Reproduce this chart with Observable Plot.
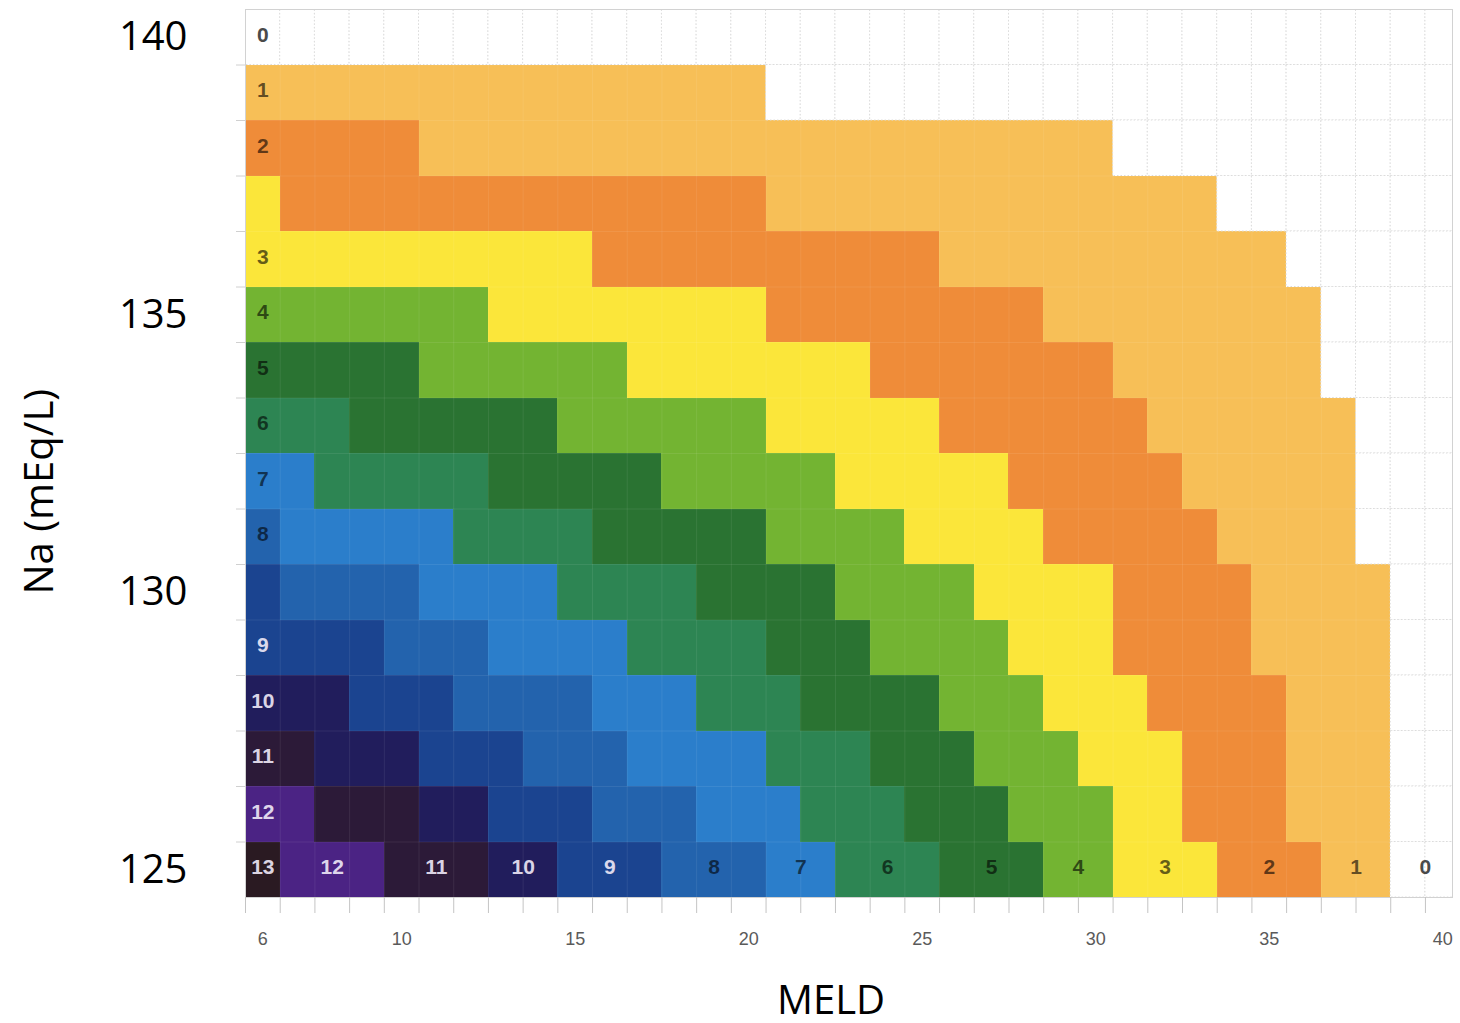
<!DOCTYPE html>
<html>
<head>
<meta charset="utf-8">
<script src="https://cdn.jsdelivr.net/npm/d3@7"></script>
<script src="https://cdn.jsdelivr.net/npm/@observablehq/plot@0.6"></script>
<style>
  html, body { margin: 0; padding: 0; background: #ffffff; }
  #chart { width: 1460px; height: 1023px; }
</style>
</head>
<body>
<div id="chart"></div>
<script>
// ---- Data ----
const meld = [6,7,8,9,10,11,12,13,14,15,16,17,18,19,20,21,22,23,24,25,26,27,28,29,30,31,32,33,34,35,36,37,38,39,40];
const na = [140,139,138,137,136,135,134,133,132,131,130,129,128,127,126,125];

// increase in score per cell, one array per Na row (MELD 6 .. 40)
const row140 = [0,0,0,0,0,0,0,0,0,0,0,0,0,0,0,0,0,0,0,0,0,0,0,0,0,0,0,0,0,0,0,0,0,0,0];
const row139 = [1,1,1,1,1,1,1,1,1,1,1,1,1,1,1,0,0,0,0,0,0,0,0,0,0,0,0,0,0,0,0,0,0,0,0];
const row138 = [2,2,2,2,2,1,1,1,1,1,1,1,1,1,1,1,1,1,1,1,1,1,1,1,1,0,0,0,0,0,0,0,0,0,0];
const row137 = [3,2,2,2,2,2,2,2,2,2,2,2,2,2,2,1,1,1,1,1,1,1,1,1,1,1,1,1,0,0,0,0,0,0,0];
const row136 = [3,3,3,3,3,3,3,3,3,3,2,2,2,2,2,2,2,2,2,2,1,1,1,1,1,1,1,1,1,1,0,0,0,0,0];
const row135 = [4,4,4,4,4,4,4,3,3,3,3,3,3,3,3,2,2,2,2,2,2,2,2,1,1,1,1,1,1,1,1,0,0,0,0];
const row134 = [5,5,5,5,5,4,4,4,4,4,4,3,3,3,3,3,3,3,2,2,2,2,2,2,2,1,1,1,1,1,1,0,0,0,0];
const row133 = [6,6,6,5,5,5,5,5,5,4,4,4,4,4,4,3,3,3,3,3,2,2,2,2,2,2,1,1,1,1,1,1,0,0,0];
const row132 = [7,7,6,6,6,6,6,5,5,5,5,5,4,4,4,4,4,3,3,3,3,3,2,2,2,2,2,1,1,1,1,1,0,0,0];
const row131 = [8,7,7,7,7,7,6,6,6,6,5,5,5,5,5,4,4,4,4,3,3,3,3,2,2,2,2,2,1,1,1,1,0,0,0];
const row130 = [9,8,8,8,8,7,7,7,7,6,6,6,6,5,5,5,5,4,4,4,4,3,3,3,3,2,2,2,2,1,1,1,1,0,0];
const row129 = [9,9,9,9,8,8,8,7,7,7,7,6,6,6,6,5,5,5,4,4,4,4,3,3,3,2,2,2,2,1,1,1,1,0,0];
const row128 = [10,10,10,9,9,9,8,8,8,8,7,7,7,6,6,6,5,5,5,5,4,4,4,3,3,3,2,2,2,2,1,1,1,0,0];
const row127 = [11,11,10,10,10,9,9,9,8,8,8,7,7,7,7,6,6,6,5,5,5,4,4,4,3,3,3,2,2,2,1,1,1,0,0];
const row126 = [12,12,11,11,11,10,10,9,9,9,8,8,8,7,7,7,6,6,6,5,5,5,4,4,4,3,3,2,2,2,1,1,1,0,0];
const row125 = [13,12,12,12,11,11,11,10,10,9,9,9,8,8,8,7,7,6,6,6,5,5,5,4,4,3,3,3,2,2,2,1,1,0,0];

// rows whose first cell carries a printed number
const labelRows = [140,139,138,136,135,134,133,132,131,129,128,127,126,125];
// x-axis tick labels
const xTicks = [6,10,15,20,25,30,35,40];
// y-axis tick labels
const yTicks = [125,130,135,140];

// ---- Styles ----
const palette = ["#ffffff","#f7bf57","#ef8c39","#fbe63a","#73b432","#2a7332","#2d8553",
                 "#2b7ecb","#2363ad","#1b4490","#211d5c","#2c1a38","#4b2384","#2a1a22"];

// ---- Build table ----
const rows = [row140,row139,row138,row137,row136,row135,row134,row133,row132,row131,row130,row129,row128,row127,row126,row125];
const cells = [];
rows.forEach((vals, i) => vals.forEach((v, j) => cells.push({na: na[i], meld: meld[j], v})));

// labels: first column for selected rows
const labels = [];
labelRows.forEach(n => {
  const vals = rows[na.indexOf(n)];
  labels.push({meld: meld[0], na: n, v: vals[0]});
});
// labels along the bottom row: one per run of equal values (after the first cell)
{
  const n = na[na.length - 1];
  const vals = rows[na.length - 1];
  const groups = d3.groups(meld.map((m, j) => ({m, v: vals[j]})).slice(1), d => d.v);
  for (const [v, arr] of groups) labels.push({meld: d3.mean(arr, d => d.m), na: n, v});
}

const labelFill = v => v >= 9 ? "rgba(238,232,246,0.92)" : v === 0 ? "#4a4a4a" : "rgba(0,0,0,0.6)";

const xBounds = meld.map(m => m - 0.5);
const yBounds = na.map(n => n - 0.5);

const chart = Plot.plot({
  width: 1460,
  height: 1023,
  marginLeft: 245,
  marginRight: 8,
  marginTop: 9,
  marginBottom: 126,
  x: {domain: [5.5, 40.28], axis: null},
  y: {domain: [124.5, 140.5], axis: null},
  color: {type: "identity"},
  style: {background: "white", fontFamily: "'Liberation Sans', Arial, sans-serif", overflow: "visible"},
  marks: [
    Plot.frame({stroke: "#cfcfcf"}),
    Plot.rect(cells, {
      x1: d => d.meld - 0.5, x2: d => d.meld + 0.5,
      y1: d => d.na - 0.5, y2: d => d.na + 0.5,
      fill: d => palette[d.v], clip: true, shapeRendering: "crispEdges"
    }),
    // faint light grid over coloured cells
    Plot.ruleX(xBounds.slice(1), {stroke: "white", strokeOpacity: 0.08}),
    Plot.ruleY(yBounds.slice(0, -1), {stroke: "white", strokeOpacity: 0.08}),
    // dotted grid in the empty (zero) region
    Plot.rect(cells.filter(d => d.v === 0), {
      x1: d => d.meld - 0.5, x2: d => d.meld + 0.5,
      y1: d => d.na - 0.5, y2: d => d.na + 0.5,
      fill: "white", stroke: "#dcdcdc", strokeDasharray: "1.5,2", clip: true
    }),
    Plot.frame({stroke: "#d2d2d2", fill: "none"}),
    // cell numbers
    Plot.text(labels, {
      x: "meld", y: "na", text: d => String(d.v),
      fill: d => labelFill(d.v), fontSize: 21, fontWeight: "bold", dy: -2,
      fontFamily: "'Liberation Sans', Arial, sans-serif"
    }),
    // x tick marks at cell boundaries
    Plot.axisX({ticks: xBounds, tickSize: 16, tickFormat: () => "", label: null, stroke: "#c4c4c4"}),
    // x tick labels
    Plot.axisX({ticks: xTicks, tickSize: 0, tickPadding: 35, label: null, fontSize: 18, fill: "#5a5a5a",
                fontFamily: "'Liberation Sans', Arial, sans-serif"}),
    // y tick marks at row boundaries
    Plot.axisY({ticks: yBounds.slice(0, -1), tickSize: 9, tickFormat: () => "", label: null, stroke: "#d0d0d0"}),
    // y tick labels
    Plot.axisY({ticks: yTicks, tickSize: 0, tickPadding: 58, label: null, fontSize: 40, fill: "black",
                fontFamily: "'Open Sans', sans-serif"}),
    // axis titles
    Plot.text(["MELD"], {text: d => d, frameAnchor: "bottom", dy: 116, dx: -18, fontSize: 40,
                         fill: "black", fontFamily: "'Open Sans', sans-serif"}),
    Plot.text(["Na (mEq/L)"], {text: d => d, frameAnchor: "left", dx: -205, dy: 141, rotate: -90,
                               fontSize: 40, fill: "black", fontFamily: "'Open Sans', sans-serif"})
  ]
});
document.getElementById("chart").appendChild(chart);
</script>
</body>
</html>
